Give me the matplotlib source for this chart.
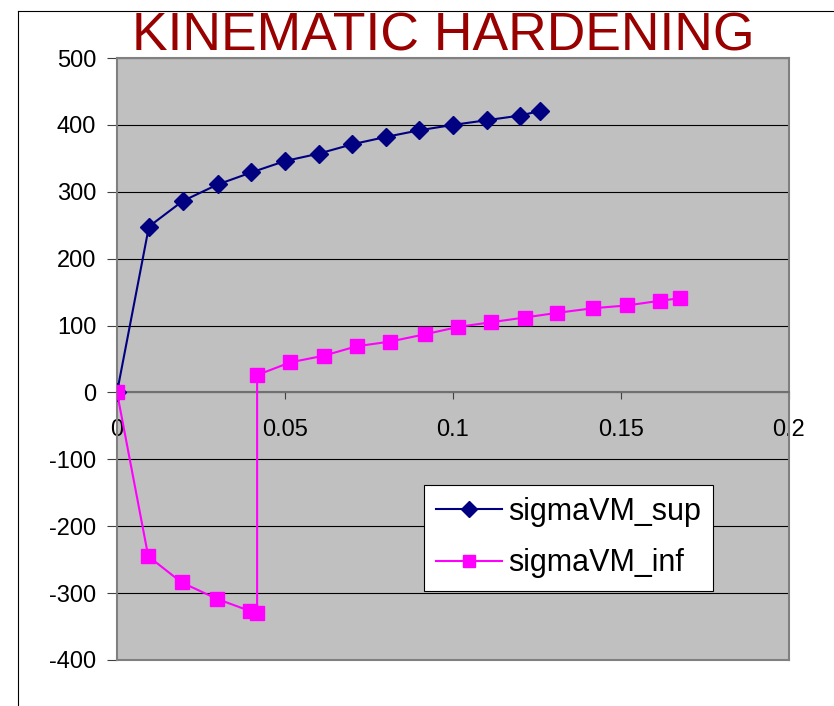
import matplotlib
matplotlib.use('Agg')
import matplotlib.pyplot as plt
from matplotlib.lines import Line2D

plt.rcParams['font.family'] = ['Liberation Sans', 'DejaVu Sans']
plt.rcParams['axes.unicode_minus'] = False

# sigmaVM_sup
x_sup = [0, 0.0095, 0.0195, 0.030, 0.040, 0.050, 0.060, 0.070, 0.080, 0.090, 0.100, 0.110, 0.120, 0.126]
y_sup = [0, 248, 286, 311, 329, 346, 357, 371, 382, 392, 400, 407, 414, 421]

# sigmaVM_inf
x_inf = [0, 0.0093, 0.0192, 0.0299, 0.0397, 0.0417, 0.0417, 0.0516, 0.0616, 0.0713, 0.0812,
         0.0917, 0.1016, 0.1114, 0.1213, 0.131, 0.1418, 0.1517, 0.1615, 0.1677]
y_inf = [0, -245, -284, -309, -327, -330, 26, 45, 55, 69, 76,
         87, 98, 105, 112, 119, 126, 130, 137, 141]

xticks = [0, 0.05, 0.1, 0.15, 0.2]
xticklabels = ['0', '0.05', '0.1', '0.15', '0.2']
yticks = [-400, -300, -200, -100, 0, 100, 200, 300, 400, 500]

fig = plt.figure(figsize=(8.34, 7.06), dpi=100)
ax = fig.add_axes([0.1403, 0.0652, 0.8057, 0.8526])
ax.set_facecolor('#C0C0C0')

# frame round the chart (only left and top visible)
fig.add_artist(Line2D([18/834, 18/834], [0, 1 - 11/706], color='black', lw=0.8))
fig.add_artist(Line2D([18/834, 1], [1 - 11/706, 1 - 11/706], color='black', lw=0.8))

ax.plot(x_sup, y_sup, color='#000080', lw=1.5, marker='D', ms=9.5,
        label='sigmaVM_sup', zorder=4)
ax.plot(x_inf, y_inf, color='#FF00FF', lw=1.5, marker='s', ms=9.5,
        label='sigmaVM_inf', zorder=5)

ax.set_xlim(0, 0.2)
ax.set_ylim(-400, 500)
ax.set_xticks(xticks)
ax.set_xticklabels(xticklabels)
ax.set_yticks(yticks)

ax.yaxis.grid(True, color='black', lw=0.8)
ax.set_axisbelow(True)
ax.axhline(-400, color='#808080', lw=1.5, clip_on=False, zorder=3)

for s in ['top', 'right', 'left']:
    ax.spines[s].set_color('#808080')
    ax.spines[s].set_linewidth(1.5)
ax.spines['bottom'].set_position(('data', 0))
ax.spines['bottom'].set_color('#707070')
ax.spines['bottom'].set_linewidth(1.5)
ax.spines['bottom'].set_zorder(3)

ax.tick_params(axis='x', direction='out', length=5, width=0.8, color='#404040',
               pad=14, labelsize=17)
ax.tick_params(axis='y', direction='out', length=7, width=0.8, color='#404040',
               pad=8, labelsize=17)

fig.text(0.531, 0.948, 'KINEMATIC HARDENING', color='#990000', fontsize=38.5,
         ha='center', va='center')

leg = ax.legend(loc='upper left', bbox_to_anchor=(0.457, 0.291), borderaxespad=0,
                fancybox=False, edgecolor='black', framealpha=1, fontsize=22,
                handlelength=2.15, handletextpad=0.2, labelspacing=0.7,
                borderpad=0.4, markerscale=0.85)
leg.get_frame().set_linewidth(0.8)
leg.set_zorder(10)

plt.savefig('out.png', dpi=100)
